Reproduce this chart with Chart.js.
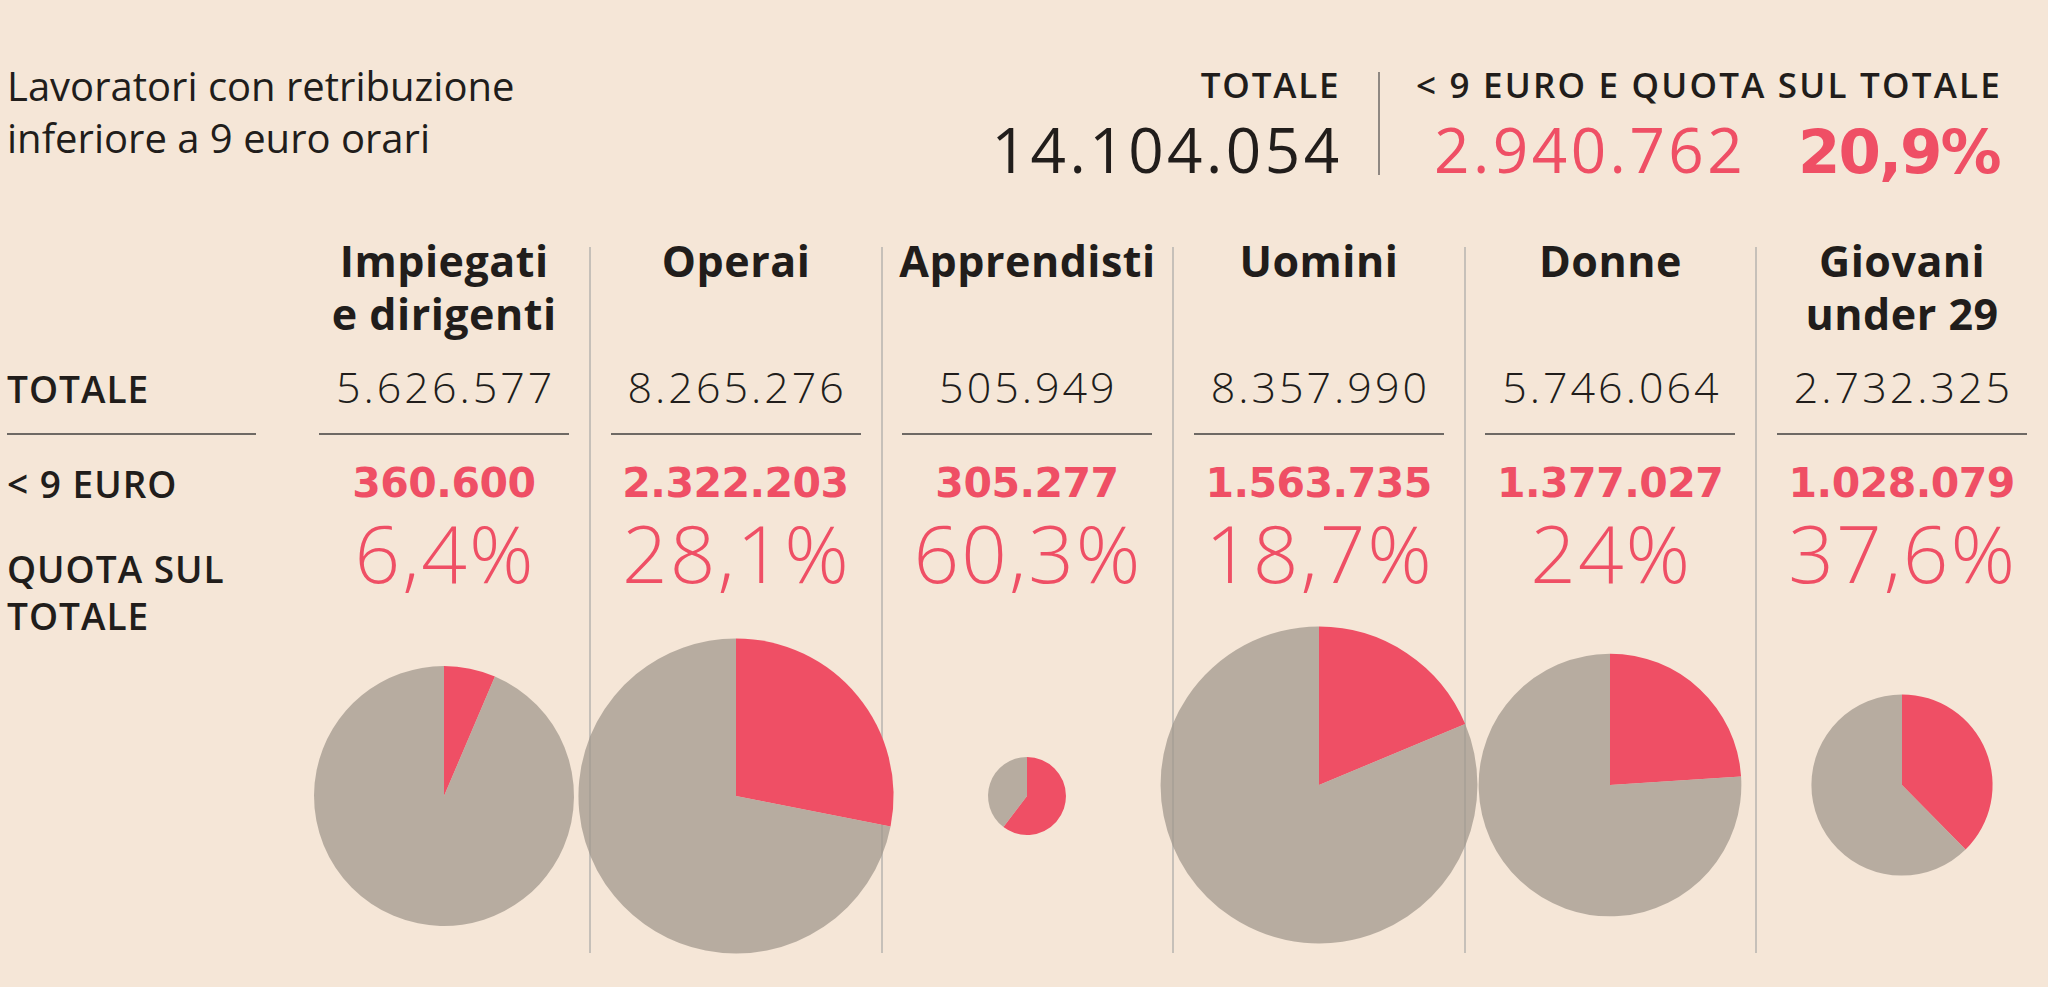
<!DOCTYPE html>
<html lang="it">
<head>
<meta charset="utf-8">
<title>Lavoratori con retribuzione inferiore a 9 euro orari</title>
<script src="https://cdn.jsdelivr.net/npm/chart.js@4.4.1/dist/chart.umd.min.js"></script>
<style>
  html, body { margin: 0; padding: 0; }
  body { width: 2048px; height: 987px; background: #f5e6d7; position: relative; overflow: hidden; }
  .txt { position: absolute; white-space: nowrap; line-height: normal; }
  .rule { position: absolute; }
  canvas.pie { position: absolute; }
</style>
</head>
<body>
<script>
// dati
const categories = [['Impiegati', 'e dirigenti'], ['Operai'], ['Apprendisti'], ['Uomini'], ['Donne'], ['Giovani', 'under 29']]
const totals = [5626577, 8265276, 505949, 8357990, 5746064, 2732325]
const under9 = [360600, 2322203, 305277, 1563735, 1377027, 1028079]
const shares = [6.4, 28.1, 60.3, 18.7, 24, 37.6]
const rowLabels = ['TOTALE', '< 9 EURO', 'QUOTA SUL', 'TOTALE']
const grandTotal = 14104054
const grandUnder9 = 2940762
const grandShare = 20.9

// layout
const RED = '#ef4f65'
const GRAY = 'rgba(160, 149, 139, 0.72)'
const DARK = '#211d1b'
const SANS = '"Open Sans", Roboto, sans-serif'
const WIDE = '"DejaVu Sans", sans-serif'
const COL0 = 444
const COL_STEP = 291.56
const pieY = [796, 796, 796, 785, 785, 785]
const R_PER_SQRT_MILLION = 54.8

const fmt = n => String(n).replace(/\B(?=(\d{3})+(?!\d))/g, '.')
const pct = v => String(v).replace('.', ',') + '%'
const colX = i => COL0 + i * COL_STEP

function rule(x, y, w, h, color) {
  const d = document.createElement('div')
  d.className = 'rule'
  d.style.cssText = `left:${x}px;top:${y}px;width:${w}px;height:${h}px;background:${color}`
  document.body.appendChild(d)
}

// place text by its baseline
function put(text, x, base, o) {
  const d = document.createElement('div')
  d.className = 'txt'
  d.style.font = `${o.weight || 400} ${o.size}px ${o.family || SANS}`
  d.style.color = o.color || DARK
  d.style.letterSpacing = (o.ls || 0) + 'px'
  d.textContent = text
  const mark = document.createElement('i')
  mark.style.cssText = 'display:inline-block;width:0;height:0;vertical-align:baseline'
  d.appendChild(mark)
  document.body.appendChild(d)
  const w = d.offsetWidth - (o.ls || 0)
  let left = x
  if (o.align === 'center') left = x - w / 2
  if (o.align === 'right') left = x - w
  d.style.left = left + 'px'
  d.style.top = (base - mark.offsetTop) + 'px'
}

function draw() {
  // intestazione
  put('Lavoratori con retribuzione', 7, 101, { size: 40 })
  put('inferiore a 9 euro orari', 7, 153, { size: 40 })
  put('TOTALE', 1339, 98, { size: 35, weight: 600, align: 'right', ls: 1.8 })
  put(fmt(grandTotal), 1339, 173, { size: 62, weight: 400, align: 'right', ls: 3.5 })
  rule(1378, 72, 2, 103, '#8f8882')
  put('< 9 EURO E QUOTA SUL TOTALE', 1416, 98, { size: 35, weight: 600, ls: 2.2 })
  put(fmt(grandUnder9), 1434, 173, { size: 62, weight: 400, color: RED, ls: 3.5 })
  put(pct(grandShare), 2002, 173, { size: 61, weight: 700, family: WIDE, color: RED, align: 'right', ls: -2 })

  // etichette di riga
  put(rowLabels[0], 7, 403, { size: 37, weight: 600, ls: 1 })
  put(rowLabels[1], 7, 498, { size: 37, weight: 600, ls: 1 })
  put(rowLabels[2], 7, 583, { size: 37, weight: 600, ls: 1 })
  put(rowLabels[3], 7, 630, { size: 37, weight: 600, ls: 1 })
  rule(7, 433, 249, 1.5, '#6e6964')

  // colonne
  for (let i = 0; i < 5; i++) rule(colX(i) + 145, 247, 2, 706, '#c6c0b9')

  categories.forEach((lines, i) => {
    const x = colX(i)
    lines.forEach((t, k) => put(t, x, 277 + k * 53, { size: 43, weight: 700, align: 'center', ls: 0.5 }))
    put(fmt(totals[i]), x, 403, { size: 43, weight: 300, align: 'center', ls: 3 })
    rule(x - 125, 433, 250, 1.5, '#6e6964')
    put(fmt(under9[i]), x, 497, { size: 41, weight: 700, family: WIDE, color: RED, align: 'center', ls: -0.5 })
    put(pct(shares[i]), x, 583, { size: 80, weight: 300, color: RED, align: 'center', ls: 2 })
  })

  // torte: area proporzionale al totale
  totals.forEach((tot, i) => {
    const size = 360
    const c = document.createElement('canvas')
    c.className = 'pie'
    c.width = size
    c.height = size
    c.style.left = (colX(i) - size / 2) + 'px'
    c.style.top = (pieY[i] - size / 2) + 'px'
    document.body.appendChild(c)
    new Chart(c, {
      type: 'pie',
      data: {
        labels: ['< 9 euro', '>= 9 euro'],
        datasets: [{
          data: [under9[i], tot - under9[i]],
          backgroundColor: [RED, GRAY],
          borderWidth: 0
        }]
      },
      options: {
        responsive: false,
        animation: false,
        events: [],
        radius: R_PER_SQRT_MILLION * Math.sqrt(tot / 1e6),
        layout: { padding: 0 },
        plugins: { legend: { display: false }, tooltip: { enabled: false } }
      }
    })
  })
}

if (document.fonts && document.fonts.ready) document.fonts.ready.then(draw)
else draw()
</script>
</body>
</html>
